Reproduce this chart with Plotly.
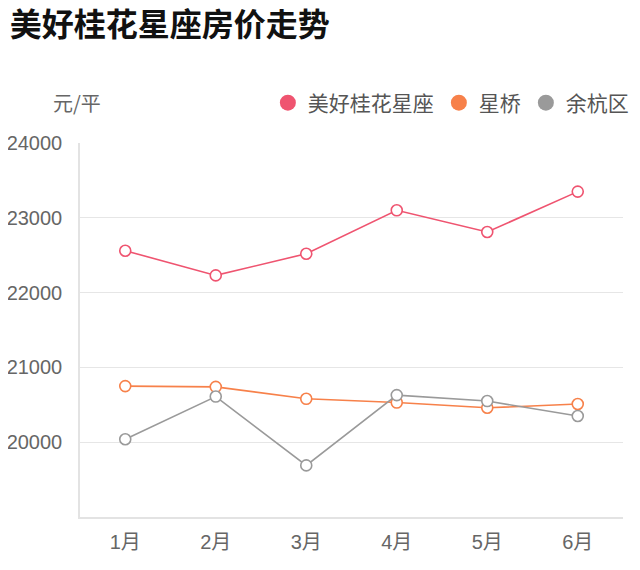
import plotly.graph_objects as go

months = ["1月", "2月", "3月", "4月", "5月", "6月"]
series_names = ["美好桂花星座", "星桥", "余杭区"]
meihao = [22560, 22230, 22520, 23100, 22810, 23350]
xingqiao = [20750, 20740, 20580, 20530, 20460, 20510]
yuhang = [20040, 20610, 19690, 20630, 20550, 20350]
y_ticks = [20000, 21000, 22000, 23000, 24000]
y_tick_text = ["20000", "21000", "22000", "23000", "24000"]

colors = ["#ef5470", "#f7814a", "#9a9a9a"]
FONT = "Liberation Sans, Arial, Noto Sans CJK SC, sans-serif"
CJK = "Noto Sans CJK SC, sans-serif"

fig = go.Figure()
for name, vals, c in zip(series_names, [meihao, xingqiao, yuhang], colors):
    fig.add_trace(go.Scatter(
        x=months, y=vals, mode="lines+markers", name=name, showlegend=False,
        line=dict(color=c, width=1.6),
        marker=dict(size=11, color="white", line=dict(color=c, width=1.6)),
        hoverinfo="x+y+name",
    ))
    # legend-only entry (filled dot)
    fig.add_trace(go.Scatter(
        x=[None], y=[None], mode="markers", name=name, showlegend=True,
        marker=dict(size=16, color=c),
    ))

fig.update_layout(
    width=624, height=554,
    margin=dict(l=72, r=9, t=135, b=45, autoexpand=False),
    paper_bgcolor="white", plot_bgcolor="white",
    font=dict(family=FONT, size=20, color="#666666"),
    title=dict(text="<b>美好桂花星座房价走势</b>", x=0.003, xanchor="left",
               y=0.970, yanchor="middle",
               font=dict(size=32, color="#111111", family=CJK)),
    legend=dict(orientation="h", x=1.02, xanchor="right", y=1.107, yanchor="middle",
                font=dict(size=21, color="#555555", family=CJK),
                itemwidth=30, traceorder="normal", bgcolor="rgba(0,0,0,0)"),
    showlegend=True,
    annotations=[dict(text="元/平", xref="paper", yref="paper", x=-0.005, y=1.107,
                      xanchor="center", yanchor="middle", showarrow=False,
                      font=dict(size=20, color="#666666", family=CJK))],
)
fig.update_xaxes(type="category", range=[-0.5, 5.5], showgrid=False, automargin=False,
                 showline=True, linecolor="#e3e3e3", linewidth=1.5,
                 ticks="", ticklabelstandoff=6, zeroline=False,
                 tickfont=dict(size=20, color="#666666"))
fig.update_yaxes(range=[19000, 24000], tickvals=y_ticks, ticktext=y_tick_text, automargin=False,
                 showgrid=True, gridcolor="#e6e6e6", gridwidth=1.2,
                 showline=True, linecolor="#e3e3e3", linewidth=1.5,
                 ticks="", ticklabelstandoff=12, zeroline=False,
                 tickfont=dict(size=20, color="#666666"))

fig.write_html("out.html")
